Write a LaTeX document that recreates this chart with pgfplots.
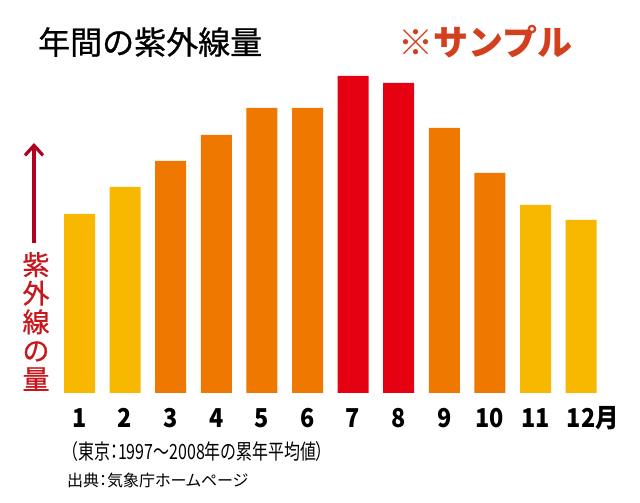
\documentclass[border=0pt]{standalone}
\usepackage{pgfplots}
\pgfplotsset{compat=1.18}
\usetikzlibrary{arrows.meta}
\usepackage{fontspec}
\setmainfont{Noto Sans CJK JP}
\newfontfamily\notefont{Noto Sans CJK JP}[RawFeature=+palt, FakeStretch=0.76]
\newfontfamily\srcfont{Noto Sans CJK JP}[RawFeature=+palt]
\newfontfamily\medfont{Noto Sans CJK JP}[FakeBold=0.7]
\newfontfamily\tickfont{Noto Sans CJK JP}[FakeStretch=0.9]
\definecolor{uvyellow}{HTML}{F8B800}
\definecolor{uvorange}{HTML}{EE7800}
\definecolor{uvred}{HTML}{E50012}
\definecolor{samplered}{HTML}{D2401E}
\definecolor{labelred}{HTML}{C8161D}
\definecolor{arrowred}{HTML}{B2001F}
\begin{document}
\begin{tikzpicture}
\path[use as bounding box] (0,0) rectangle (640bp,503bp);
\begin{axis}[
    at={(56.7bp,110bp)}, anchor=south west,
    scale only axis, width=547.2bp, height=330bp,
    xmin=0.5, xmax=12.5, ymin=0, ymax=330,
    ybar, bar width=31bp,
    axis line style={draw=none}, tick style={draw=none},
    ytick=\empty,
    xtick={1,...,12},
    xticklabels={1,2,3,4,5,6,7,8,9,10,11,12\rlap{月}},
    xticklabel style={anchor=base, yshift=-30bp,
      font=\tickfont\fontsize{26bp}{28bp}\selectfont\bfseries},
  ]
  % 1,2,11,12月
  \addplot[fill=uvyellow, draw=none, bar shift=0pt] coordinates {(1,179) (2,206) (11,188) (12,173)};
  % 3-6,9,10月
  \addplot[fill=uvorange, draw=none, bar shift=0pt] coordinates {(3,232) (4,258) (5,285) (6,285) (9,265) (10,220)};
  % 7,8月
  \addplot[fill=uvred, draw=none, bar shift=0pt] coordinates {(7,317) (8,310)};
\end{axis}
\node[anchor=west, inner sep=0pt] at (38bp,461bp) {\medfont\fontsize{32bp}{34bp}\selectfont 年間の紫外線量};
\node[anchor=west, inner sep=0pt, text=samplered] at (398bp,461bp) {\fontsize{35bp}{36bp}\selectfont\bfseries ※サンプル};
\draw[arrowred, line width=3.2bp, -{Straight Barb[length=10bp, width=18bp]}] (34bp,260bp) -- (34bp,360bp);
\node[text=labelred, align=center, inner sep=0pt, font=\medfont\fontsize{27bp}{28.6bp}\selectfont] at (36bp,181.5bp) {紫\\外\\線\\の\\量};
\node[anchor=west, inner sep=0pt] at (70bp,51bp) {\notefont\fontsize{21bp}{24bp}\selectfont （東京：1997～2008年の累年平均値）};
\node[anchor=west, inner sep=0pt] at (67bp,23bp) {\srcfont\fontsize{16bp}{18bp}\selectfont 出典：気象庁ホームページ};
\end{tikzpicture}
\end{document}
